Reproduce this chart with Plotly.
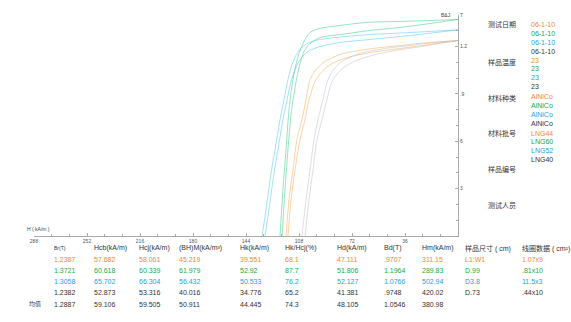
import plotly.graph_objects as go

# ---------------- data ----------------
materials = ["LNG44", "LNG60", "LNG52", "LNG40"]

# demagnetisation curves (H in axis units, B/J in T)
orange_J_H = [116.8, 114.8, 112.1, 109.4, 106.0, 103.2, 100.5, 96.4, 90.3, 80.1, 63.2, 39.4, 19.0, 0]
orange_J_B = [0, 0.230, 0.420, 0.611, 0.737, 0.864, 0.991, 1.055, 1.106, 1.150, 1.181, 1.207, 1.226, 1.238]
orange_B_H = [115.5, 113.4, 110.7, 107.3, 103.9, 101.2, 97.1, 92.4, 85.6, 74.7, 59.8, 39.4, 19.0, 0]
orange_B_B = [0, 0.230, 0.420, 0.611, 0.737, 0.864, 0.979, 1.042, 1.093, 1.131, 1.162, 1.188, 1.213, 1.238]

green_J_H = [120.9, 118.9, 116.8, 114.8, 112.1, 108.7, 104.6, 100.5, 93.7, 80.1, 61.8, 39.4, 19.0, 0]
green_J_B = [0, 0.294, 0.547, 0.801, 0.991, 1.137, 1.232, 1.289, 1.315, 1.334, 1.353, 1.359, 1.365, 1.372]
green_B_H = [119.5, 117.5, 115.5, 113.4, 110.7, 108.0, 104.6, 100.5, 93.7, 80.1, 59.8, 39.4, 19.0, 0]
green_B_B = [0, 0.294, 0.547, 0.769, 0.940, 1.067, 1.169, 1.219, 1.257, 1.276, 1.302, 1.321, 1.346, 1.372]

cyan_J_H = [133.1, 130.4, 127.7, 124.3, 120.9, 118.2, 115.5, 112.7, 109.4, 104.6, 97.1, 83.5, 59.8, 32.6, 0]
cyan_J_B = [0, 0.167, 0.357, 0.547, 0.737, 0.864, 0.991, 1.086, 1.156, 1.207, 1.238, 1.257, 1.276, 1.289, 1.306]
cyan_B_H = [131.1, 128.4, 125.6, 122.3, 118.9, 116.1, 113.4, 110.7, 107.3, 101.9, 93.7, 80.1, 59.8, 32.6, 0]
cyan_B_B = [0, 0.167, 0.357, 0.547, 0.737, 0.864, 0.979, 1.055, 1.118, 1.169, 1.200, 1.226, 1.245, 1.270, 1.306]

gray_J_H = [106.0, 103.2, 100.5, 97.8, 95.1, 91.7, 88.3, 83.5, 76.7, 66.6, 49.6, 32.6, 15.6, 0]
gray_J_B = [0, 0.230, 0.420, 0.611, 0.737, 0.864, 0.991, 1.067, 1.118, 1.156, 1.188, 1.207, 1.226, 1.238]
gray_B_H = [103.9, 101.2, 98.5, 95.8, 92.4, 89.0, 85.6, 80.1, 73.4, 63.2, 46.2, 29.2, 13.6, 0]
gray_B_B = [0, 0.230, 0.420, 0.611, 0.737, 0.864, 0.979, 1.048, 1.093, 1.131, 1.169, 1.194, 1.219, 1.238]

# axes
x_tickvals = [288, 252, 216, 180, 144, 108, 72, 36]
y_tickvals = [0.3, 0.6, 0.9, 1.2, 1.4]
y_ticktext = ["3", "6", ".9", "1.2", "T"]

# table
table_headers = ["Br(T)", "Hcb(kA/m)", "Hcj(kA/m)", "(BH)M(kA/m³)", "Hk(kA/m)",
                 "Hk/Hcj(%)", "Hd(kA/m)", "Bd(T)", "Hm(kA/m)", "样品尺寸 ( cm)", "线圈数据 ( cm²)"]
Br = ["1.2387", "1.3721", "1.3058", "1.2382", "1.2887"]
Hcb = ["57.682", "60.618", "65.702", "52.873", "59.106"]
Hcj = ["58.061", "60.339", "66.304", "53.316", "59.505"]
BHmax = ["45.219", "61.979", "56.432", "40.016", "50.911"]
Hk = ["39.551", "52.92", "50.533", "34.776", "44.445"]
HkHcj = ["68.1", "87.7", "76.2", "65.2", "74.3"]
Hd = ["47.111", "51.806", "52.127", "41.381", "48.105"]
Bd = [".9707", "1.1964", "1.0766", ".9748", "1.0546"]
Hm = ["311.15", "289.83", "502.94", "420.02", "380.98"]
size_cm = ["L1:W1", "D.99", "D3.8", "D.73"]
coil = ["1.07x9", ".81x10", "11.5x3", ".44x10"]
mean_label = "均值"

info_labels = ["测试日期", "样品温度", "材料种类", "材料批号", "样品编号", "测试人员"]
test_dates = ["06-1-10", "06-1-10", "06-1-10", "06-1-10"]
temps = ["23", "23", "23", "23"]
kinds = ["AlNiCo", "AlNiCo", "AlNiCo", "AlNiCo"]
batches = materials

# ---------------- styles ----------------
text_colors = ["#f5891f", "#16a84c", "#1aa3e6", "#333333"]
line_colors = ["rgba(250,165,80,0.5)", "rgba(50,200,130,0.5)",
               "rgba(70,195,245,0.5)", "rgba(180,180,200,0.45)"]
FONT = "Liberation Sans, Arial, Noto Sans CJK SC, sans-serif"

W_FIG, H_FIG = 571, 322
L, R, T, B = 34, 458, 15, 236
PW, PH = R - L, B - T

fig = go.Figure()
curves = [
    (orange_J_H, orange_J_B, orange_B_H, orange_B_B),
    (green_J_H, green_J_B, green_B_H, green_B_B),
    (cyan_J_H, cyan_J_B, cyan_B_H, cyan_B_B),
    (gray_J_H, gray_J_B, gray_B_H, gray_B_B),
]
for i, (jh, jb, bh, bb) in enumerate(curves):
    for hx, by in ((jh, jb), (bh, bb)):
        fig.add_trace(go.Scatter(x=hx, y=by, mode="lines",
                                 line=dict(color=line_colors[i], width=1, shape="spline", smoothing=0.8),
                                 hoverinfo="skip", showlegend=False))


def px2paper(xp, yp):
    return (xp - L) / PW, (B - yp) / PH


annotations = []


def ann(xp, yp, text, color="#333333", size=7, xanchor="left"):
    x, y = px2paper(xp, yp)
    annotations.append(dict(x=x, y=y, xref="paper", yref="paper", text=text, showarrow=False,
                             xanchor=xanchor, yanchor="middle",
                             font=dict(family=FONT, size=size, color=color)))


# axis captions
ann(25, 229, "H ( kA/m )", "#444444", 5)
ann(453, 15, "B&J", "#444444", 5, "right")

# table
col_x = [52, 92, 137, 177, 238, 283, 335, 382, 420, 463, 520]
row_y = [259, 270.7, 281.7, 292.7, 304]
for j, h in enumerate(table_headers):
    ann(col_x[j], 248, h, "#333333", 5 if j == 0 else 7)
cols = [Br, Hcb, Hcj, BHmax, Hk, HkHcj, Hd, Bd, Hm, size_cm, coil]
for j, col in enumerate(cols):
    for r, v in enumerate(col):
        c = text_colors[r] if r < 4 else "#333333"
        ann(col_x[j], row_y[r], v, c, 7)
ann(27, 304, mean_label, "#333333", 6)

# right-side info
label_y = [25, 62, 98, 133, 169, 205]
for k, lab in enumerate(info_labels):
    ann(486, label_y[k], lab, "#333333", 7)
groups = [(test_dates, 25), (temps, 60), (kinds, 96.5), (batches, 133)]
for vals, y0 in groups:
    for r, v in enumerate(vals):
        ann(529, y0 + r * 8.9, v, text_colors[r], 7)

fig.update_layout(
    width=W_FIG, height=H_FIG,
    margin=dict(l=L, r=W_FIG - R, t=T, b=H_FIG - B, pad=0),
    paper_bgcolor="white", plot_bgcolor="white",
    font=dict(family=FONT, size=7, color="#444444"),
    annotations=annotations,
    xaxis=dict(range=[288, 0], tickvals=x_tickvals, ticks="inside", ticklen=3,
               tickcolor="#aaaaaa", showline=True, linecolor="#aaaaaa", linewidth=1,
               showgrid=False, zeroline=False, tickfont=dict(size=5, color="#555555"),
               minor=dict(dtick=12, tick0=0, ticks="inside", ticklen=2, tickcolor="#aaaaaa"),
               fixedrange=True),
    yaxis=dict(range=[0, 1.4], side="right", tickvals=y_tickvals, ticktext=y_ticktext,
               ticks="inside", ticklen=3, tickcolor="#aaaaaa", showline=True,
               linecolor="#aaaaaa", linewidth=1, showgrid=False, zeroline=False,
               tickfont=dict(size=5, color="#555555"),
               minor=dict(dtick=0.1, tick0=0, ticks="inside", ticklen=2, tickcolor="#aaaaaa"),
               fixedrange=True),
)

fig.write_html("out.html", config={"displayModeBar": False})
